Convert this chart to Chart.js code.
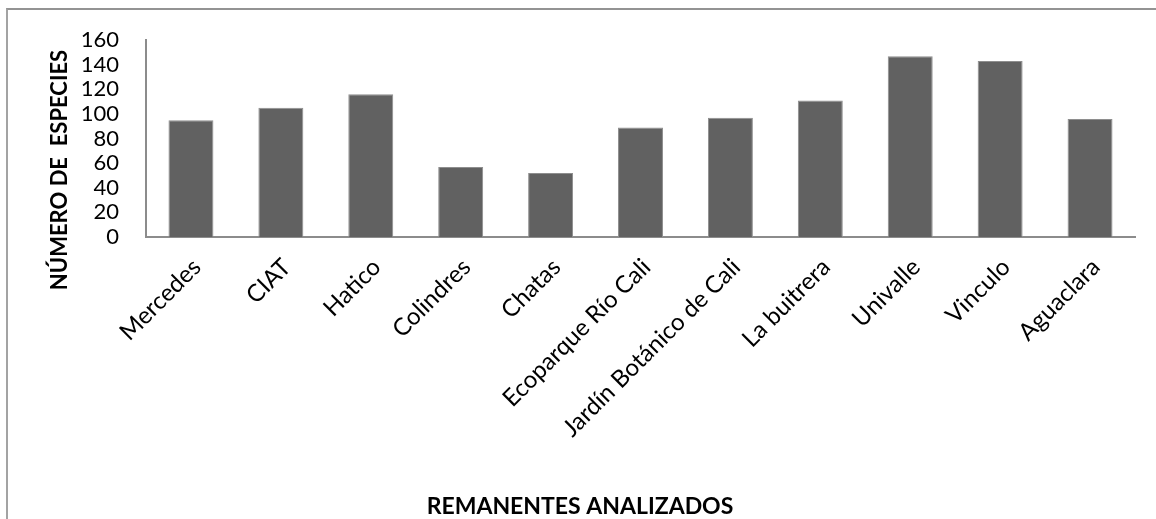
<!DOCTYPE html>
<html lang="es">
<head>
<meta charset="utf-8">
<title>Número de especies por remanente</title>
<script src="https://cdn.jsdelivr.net/npm/chart.js@4.4.1/dist/chart.umd.min.js"></script>
<style>
  html, body {
    margin: 0;
    padding: 0;
    background: #ffffff;
  }
  .chart-wrap {
    position: relative;
    width: 1156px;
    height: 519px;
  }
  .chart-frame {
    position: absolute;
    left: 6px;
    top: 8px;
    right: 0;
    bottom: 0;
    border-left: 2px solid #a3a3a3;
    border-top: 2px solid #939393;
    pointer-events: none;
  }
</style>
</head>
<body>
<div class="chart-wrap">
  <canvas id="speciesChart" width="1156" height="519"></canvas>
  <div class="chart-frame"></div>
</div>
<script>
// Chart data
const remanentes = [
  "Mercedes",
  "CIAT",
  "Hatico",
  "Colindres",
  "Chatas",
  "Ecoparque Río Cali",
  "Jardín Botánico de Cali",
  "La buitrera",
  "Univalle",
  "Vinculo",
  "Aguaclara",
];
const especies = [95, 105, 116, 57, 52, 89, 97, 111, 147, 143, 96];
const yTicks = [0, 20, 40, 60, 80, 100, 120, 140, 160];

const yTitle = "NÚMERO DE  ESPECIES";
const xTitle = "REMANENTES ANALIZADOS";

const FONT = "Lato, Carlito, 'Open Sans', sans-serif";

// Axis titles drawn by hand so they can sit off the plot centre
const axisTitles = {
  id: "axisTitles",
  afterDraw(chart) {
    const ctx = chart.ctx;
    ctx.save();
    ctx.fillStyle = "#000000";
    ctx.textAlign = "center";
    ctx.textBaseline = "middle";

    ctx.font = "bold 23px " + FONT;
    ctx.fillText(xTitle, 580, 507);

    ctx.font = "bold 22px " + FONT;
    ctx.translate(60, 170);
    ctx.rotate(-Math.PI / 2);
    ctx.fillText(yTitle, 0, 0);
    ctx.restore();
  },
};

function initChart() {
  const ctx = document.getElementById("speciesChart").getContext("2d");

  new Chart(ctx, {
    type: "bar",
    data: {
      labels: remanentes,
      datasets: [
        {
          label: "Número de especies",
          data: especies,
          backgroundColor: "#616161",
          borderColor: "#8e8e8e",
          borderWidth: 1,
          barPercentage: 1,
          categoryPercentage: 0.5,
        },
      ],
    },
    options: {
      responsive: false,
      animation: false,
      layout: {
        padding: { top: 38, right: 21, bottom: 0, left: 0 },
      },
      plugins: {
        legend: { display: false },
        tooltip: { enabled: false },
      },
      scales: {
        x: {
          grid: { display: false, drawTicks: false },
          border: { display: true, color: "#8c8c8c", width: 2 },
          ticks: {
            color: "#000000",
            font: { family: FONT, size: 24 },
            minRotation: 45,
            maxRotation: 45,
            autoSkip: false,
            padding: 16,
            labelOffset: 6,
          },
          afterFit(scale) {
            scale.height = 282;
          },
        },
        y: {
          min: 0,
          max: 160,
          grid: { display: false, drawTicks: false },
          border: { display: true, color: "#8c8c8c", width: 2 },
          afterBuildTicks(scale) {
            scale.ticks = yTicks.map((v) => ({ value: v }));
          },
          ticks: {
            color: "#000000",
            font: { family: FONT, size: 22 },
            autoSkip: false,
            padding: 27,
          },
          afterFit(scale) {
            scale.width = 146;
          },
        },
      },
    },
    plugins: [axisTitles],
  });
}

document.addEventListener("DOMContentLoaded", function () {
  initChart();
});
</script>
</body>
</html>
